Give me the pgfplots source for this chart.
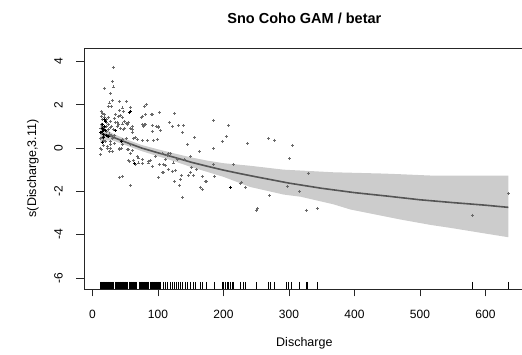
\documentclass[border=0pt]{standalone}
\usepackage{pgfplots}
\pgfplotsset{compat=1.18}
\usepackage{fontspec}
\setmainfont{Liberation Sans}
\definecolor{band}{RGB}{204,204,204}
\definecolor{fitline}{RGB}{85,85,85}
\definecolor{pts}{RGB}{105,105,105}
\begin{document}
\begin{tikzpicture}[x=1pt,y=1pt]
\begin{axis}[
  at={(84pt,66pt)}, anchor=south west,
  scale only axis, width=440.7pt, height=241pt,
  xmin=-12.9, xmax=659.9, ymin=-6.51, ymax=4.62,
  xtick={0,100,200,300,400,500,600},
  ytick={-6,-4,-2,0,2,4},
  tick pos=left, tick align=outside, major tick length=7.5pt,
  axis line style={black!85, line width=0.8pt},
  every tick/.style={black!85, line width=0.8pt},
  /pgf/number format/assume math mode=true,
  tick label style={font=\fontsize{12}{14}\selectfont},
  xticklabel style={anchor=center, yshift=-18pt},
  yticklabel style={anchor=center, xshift=-18pt, rotate=90},
  title={Sno Coho GAM / betar},
  title style={font=\fontsize{14.5}{17}\selectfont\bfseries, anchor=center, at={(0.5,1)}, yshift=24pt},
  xlabel={Discharge},
  xlabel style={font=\fontsize{12.5}{15}\selectfont, anchor=center, at={(0.5,0)}, yshift=-54pt},
  ylabel={s(Discharge,3.11)},
  ylabel style={font=\fontsize{12.5}{15}\selectfont, anchor=center, at={(0,0.5)}, yshift=51pt},
  clip=false,
]
% confidence band
\addplot[fill=band, draw=none] coordinates {
(12,1.10) (20,0.88) (30,0.68) (50,0.42) (75,0.14) (100,-0.06) (125,-0.25) (150,-0.43) (175,-0.58) (200,-0.70) (241,-0.82) (292,-1.00) (318,-1.04) (368,-1.12) (394,-1.14) (445,-1.18) (470,-1.21) (516,-1.27) (547,-1.27) (600,-1.27) (635,-1.27)
(635,-4.12) (600,-3.95) (547,-3.69) (516,-3.55) (470,-3.30) (445,-3.15) (394,-2.84) (368,-2.60) (318,-2.25) (292,-2.15) (241,-1.80) (200,-1.33) (175,-1.10) (150,-0.87) (125,-0.61) (100,-0.38) (75,-0.14) (50,0.14) (30,0.36) (20,0.35) (12,0.25)
};
% fitted smooth
\addplot[fitline, line width=1.6pt] coordinates {
(12,0.68) (20,0.62) (30,0.52) (50,0.28) (75,0.0) (100,-0.22) (125,-0.43) (150,-0.65) (175,-0.84) (200,-1.02) (225,-1.18) (250,-1.33) (300,-1.62) (350,-1.86) (400,-2.06) (450,-2.22) (500,-2.39) (550,-2.52) (600,-2.64) (635,-2.74)
};
% partial residuals (gray)
\addplot[only marks, mark=+, mark size=1.5pt, pts, line width=0.9pt] coordinates {
(31.6,3.74) (30.5,3.08) (32.5,2.82) (18.3,2.76) (27.5,2.51) (30,2.20) (25.5,2.08) (24,1.92) (28.5,1.90)
(41.2,2.16) (51.9,2.13) (45.8,1.85) (41.7,1.73) (46.9,1.68) (58,1.88) (82,1.99) (79.4,1.92) (13.3,1.68)
(74.8,1.42) (90,1.57) (102.7,1.62) (125.6,1.59) (117.6,1.16) (122.6,1.00) (131.8,1.05) (139.4,1.03)
(137.9,0.70) (156.2,0.47) (145.5,0.16) (185.2,1.28) (208,1.05) (204,0.54) (198,0.31) (237.1,0.19)
(185.2,-0.04) (163.8,-0.18) (215.7,-0.77) (185.2,-0.77) (227.5,-1.61) (234,-1.81) (250.4,-2.89)
(172.5,-1.56) (167.5,-1.92) (164.9,-1.80) (137.9,-2.27) (125.2,-1.56) (135.4,-1.27) (134.4,-1.46) (133.3,-1.74)
(147,-1.27) (154.7,-1.27) (149.6,-1.15) (150.7,-0.89) (158.3,-1.0) (167.5,-1.31) (186.7,-1.31) (173.6,-1.55)
(101.2,-1.38) (106.4,-1.15) (108.9,-0.77) (111.5,-0.81) (115.6,-0.99) (121.7,-1.07) (126.7,-1.04) (108,-1.15)
(102.3,-0.77) (111.5,-0.54) (124,-0.69) (129.3,-0.54) (140.5,-0.54) (149.6,-0.38) (114,-0.35) (119,-0.26)
(106.9,-0.23) (116.5,-0.27) (85,-0.69) (91.1,-0.84) (57,-0.61) (62.1,-0.58) (70.7,-0.46) (75.9,-0.54)
(41.7,-1.35) (45.3,-1.31) (58,-1.74) (12.2,-0.30) (58,0.90) (60.6,0.72) (65.6,0.47) (80.9,1.08) (78.3,1.00)
(100.3,1.0) (103.8,0.82) (98.8,0.39) (91.1,0.77) (40.2,1.46) (45.3,1.39) (48.9,1.23) (51.4,1.13) (35.1,1.19)
(37.7,1.00) (42.7,0.91) (47.8,0.85) (40.8,-0.07) (44.3,-0.03) (55.4,-0.07) (58,-0.23) (27.5,-0.03) (30,-0.15)
(23.4,0.08) (45.3,0.39) (51.4,0.42) (45.3,0.16)
(42.7,1.50) (35.1,1.54) (33.6,1.36) (18.8,1.42) (14.8,1.31) (27.5,1.23) (20.9,1.16) (24,1.08) (29,1.0)
(37.7,1.16) (40.2,1.08) (45.3,1.11) (55.4,1.16) (53,1.08) (49.3,0.90) (60.6,1.0) (60.6,0.85) (75.9,1.46)
(80.9,1.54) (76.8,1.08) (79.4,1.08) (91.1,1.54) (91.1,1.05) (97.2,1.0) (101.2,0.93)
(27.5,0.16) (25.9,-0.15) (41.7,-0.03) (53,-0.07) (58,0.16) (63.1,0.43) (68.2,0.39) (76.8,0.34) (84.4,0.34)
(93.6,0.34) (60.6,-0.12) (68.2,-0.38) (96.2,-0.38) (88.5,-0.58) (55.4,-0.58) (65.6,-0.77) (70.7,-0.69)
(76.8,-0.73) (86,-0.61) (102.3,-0.77)
(269.2,0.43) (278.3,0.36) (305.8,0.12) (301.2,-0.49) (329.3,-1.18) (297.2,-1.78) (316.5,-2.01) (270.7,-2.20)
(326.3,-2.87) (343,-2.80) (226,-1.64) (251.5,-2.80) (635.6,-2.10) (580,-3.10)
(12.5,0.45) (13,0.9) (14,1.1) (15,0.5) (16,1.0) (17,0.35) (18,0.6) (19,0.95) (20,0.3) (21,0.75) (22,1.3)
(23,0.55) (24,0.85) (26,0.65) (27,0.95) (28,0.3) (29,0.6) (31,0.45) (32,0.85) (33,0.2) (34,0.6) (13.5,1.45)
(15.5,1.6) (16.5,0.1) (19,1.55) (21,1.0) (22.5,0.0) (25,1.4) (12,0.0) (14,-0.05)
};
% darker overlapping residuals
\addplot[only marks, mark=+, mark size=1.5pt, black, line width=1pt] coordinates {
(56.5,1.65) (58,1.69) (210.7,-1.81) (64.1,-0.73) (18.3,1.31) (19.8,1.23) (17.3,0.85) (14.8,0.77) (16.3,0.62)
(14.8,0.24) (24.9,0.54) (35.1,0.80) (44.3,0.31) (13,0.7) (15,0.9) (16,1.1) (17,0.5) (18,1.0) (20,0.8) (22,0.6)
};
% rug
\addplot[only marks, mark=|, mark size=3.6pt, black, line width=0.8pt] coordinates {
(12,-6.344) (13,-6.344) (14,-6.344) (15,-6.344) (16,-6.344) (17,-6.344) (18,-6.344) (19,-6.344) (20,-6.344)
(21,-6.344) (22,-6.344) (23,-6.344) (24,-6.344) (25,-6.344) (26,-6.344) (27,-6.344) (28,-6.344) (29,-6.344)
(30,-6.344) (31,-6.344) (32,-6.344) (35,-6.344) (36,-6.344) (37,-6.344) (38,-6.344) (39,-6.344) (40,-6.344)
(41,-6.344) (42,-6.344) (43,-6.344) (44,-6.344) (45,-6.344) (46,-6.344) (47,-6.344) (48,-6.344) (49,-6.344)
(50,-6.344) (51,-6.344) (52,-6.344) (53,-6.344) (56,-6.344) (57,-6.344) (58,-6.344) (59,-6.344) (60,-6.344)
(61,-6.344) (62,-6.344) (63,-6.344) (64,-6.344) (65,-6.344) (66,-6.344) (67,-6.344) (71,-6.344) (72,-6.344)
(73,-6.344) (74,-6.344) (75,-6.344) (76,-6.344) (77,-6.344) (78,-6.344) (79,-6.344) (80,-6.344) (81,-6.344)
(82,-6.344) (83,-6.344) (84,-6.344) (85,-6.344) (86,-6.344) (89,-6.344) (90,-6.344) (91,-6.344) (92,-6.344)
(93,-6.344) (94,-6.344) (95,-6.344) (96,-6.344) (97,-6.344) (98,-6.344) (99,-6.344) (100,-6.344) (101,-6.344)
(102,-6.344) (103,-6.344)
(107.9,-6.344) (111.5,-6.344) (115,-6.344) (119,-6.344) (122.6,-6.344) (125.2,-6.344) (128.2,-6.344)
(131.8,-6.344) (134.4,-6.344) (137.9,-6.344) (142,-6.344) (144.6,-6.344) (149.6,-6.344) (153.7,-6.344)
(157.3,-6.344) (164.9,-6.344) (167.5,-6.344) (173.6,-6.344) (186.3,-6.344) (198,-6.344) (200.5,-6.344)
(203,-6.344) (205.6,-6.344) (208,-6.344) (210.7,-6.344) (213,-6.344) (215.7,-6.344) (225.9,-6.344)
(230,-6.344) (233.6,-6.344) (250.4,-6.344) (269,-6.344) (271.8,-6.344) (278.3,-6.344) (296,-6.344)
(299.7,-6.344) (303.4,-6.344) (316.5,-6.344) (326.7,-6.344) (328.7,-6.344) (343,-6.344) (579.7,-6.344)
(635.6,-6.344)
};
\end{axis}
\pgfresetboundingbox
\path (0,0) rectangle (522pt,355pt);
\end{tikzpicture}
\end{document}
